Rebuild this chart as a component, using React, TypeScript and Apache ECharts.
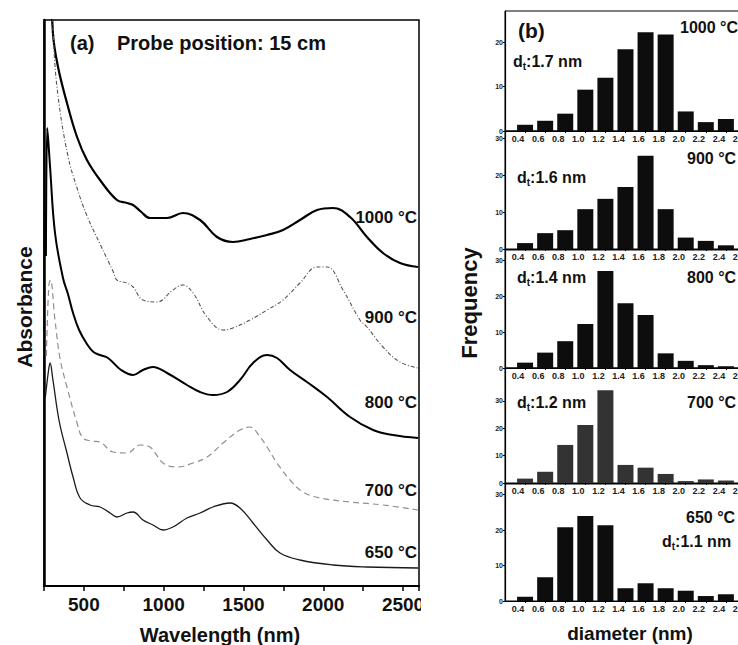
import React, { useEffect, useRef } from "react";
import * as echarts from "echarts";

const FONT = '"Liberation Sans", Arial, Helvetica, sans-serif';

// ---------- Panel (a): absorption spectra [wavelength nm, absorbance a.u. (offset)] ----------
const wlTicks = [500, 1000, 1500, 2000, 2500];

const spec1000: [number, number][] = [
  [290, 6.4], [306, 5.53], [338, 5.19], [394, 4.83], [457, 4.49], [519, 4.26], [601, 4.06],
  [707, 3.86], [770, 3.83], [808, 3.81], [860, 3.74], [914, 3.68], [1021, 3.68], [1121, 3.73],
  [1228, 3.66], [1334, 3.49], [1434, 3.44], [1541, 3.47], [1648, 3.51], [1748, 3.56],
  [1854, 3.66], [1961, 3.76], [2061, 3.78], [2168, 3.69], [2274, 3.49], [2374, 3.33],
  [2481, 3.23], [2594, 3.19],
];
const spec900: [number, number][] = [
  [293, 6.4], [310, 5.45], [338, 4.9], [400, 4.3], [457, 3.98], [520, 3.7], [601, 3.42],
  [682, 3.15], [707, 3.06], [770, 3.03], [808, 2.99], [870, 2.86], [958, 2.84], [1058, 2.96],
  [1121, 3.01], [1184, 2.93], [1272, 2.69], [1372, 2.56], [1434, 2.58], [1541, 2.66],
  [1648, 2.76], [1748, 2.86], [1854, 3.03], [1961, 3.19], [2024, 3.19], [2124, 2.96],
  [2230, 2.66], [2274, 2.59], [2374, 2.39], [2481, 2.24], [2594, 2.18],
];
const spec800: [number, number][] = [
  [262, 3.3], [270, 4.58], [277, 4.45], [288, 4.19], [319, 3.53], [369, 3.08], [400, 2.92],
  [432, 2.73], [470, 2.56], [519, 2.42], [560, 2.34], [601, 2.31], [651, 2.28], [733, 2.16],
  [808, 2.11], [870, 2.16], [933, 2.19], [1021, 2.13], [1146, 2.01], [1228, 1.94], [1309, 1.91],
  [1397, 1.94], [1478, 2.06], [1560, 2.23], [1648, 2.31], [1710, 2.28], [1792, 2.16],
  [1898, 2.04], [2024, 1.89], [2168, 1.69], [2312, 1.56], [2437, 1.51], [2594, 1.48],
];
const spec700: [number, number][] = [
  [265, 2.3], [280, 3.0], [290, 3.06], [319, 2.66], [350, 2.28], [394, 1.99], [457, 1.63],
  [494, 1.48], [550, 1.45], [601, 1.44], [682, 1.34], [770, 1.33], [852, 1.41], [914, 1.39],
  [996, 1.23], [1084, 1.19], [1184, 1.23], [1272, 1.29], [1372, 1.43], [1478, 1.56],
  [1541, 1.59], [1604, 1.49], [1648, 1.39], [1710, 1.23], [1792, 1.06], [1873, 0.94],
  [1980, 0.88], [2168, 0.84], [2374, 0.81], [2594, 0.76],
];
const spec650: [number, number][] = [
  [258, 1.88], [278, 2.15], [288, 2.23], [306, 2.06], [345, 1.65], [394, 1.33], [432, 1.09],
  [476, 0.88], [538, 0.81], [601, 0.79], [664, 0.73], [707, 0.69], [770, 0.73], [808, 0.74],
  [870, 0.66], [933, 0.61], [996, 0.56], [1058, 0.59], [1146, 0.68], [1228, 0.73],
  [1309, 0.79], [1416, 0.83], [1478, 0.78], [1560, 0.63], [1648, 0.46], [1729, 0.33],
  [1854, 0.26], [2061, 0.21], [2274, 0.19], [2594, 0.18],
];

// ---------- Panel (b): diameter histograms ----------
const diameters = [0.4, 0.6, 0.8, 1.0, 1.2, 1.4, 1.6, 1.8, 2.0, 2.2, 2.4];
const diamTicks = [0.4, 0.6, 0.8, 1.0, 1.2, 1.4, 1.6, 1.8, 2.0, 2.2, 2.4, 2.6];
const freq1000 = [1.4, 2.3, 3.9, 9.3, 12.0, 18.4, 22.2, 21.7, 4.4, 2.0, 2.7];
const freq900 = [1.6, 4.3, 5.1, 10.8, 13.6, 16.8, 25.3, 10.8, 3.1, 2.2, 1.0];
const freq800 = [1.5, 4.3, 7.5, 12.3, 27.1, 18.1, 14.8, 4.1, 2.0, 0.8, 0.5];
const freq700 = [1.6, 4.1, 13.9, 21.2, 33.9, 6.6, 5.6, 3.3, 0.7, 1.3, 0.9];
const freq650 = [1.2, 6.7, 20.8, 24.0, 21.4, 3.6, 5.0, 3.6, 2.9, 1.4, 1.9];
const freqTicks3 = [0, 10, 20];
const freqTicks4 = [0, 10, 20, 30];

const histPanels = [
  { freq: freq1000, top: 11, height: 120, max: 27, ticks: freqTicks3, color: "#0d0d0d" },
  { freq: freq900, top: 131, height: 118, max: 32, ticks: freqTicks4, color: "#0d0d0d" },
  { freq: freq800, top: 250, height: 118, max: 33, ticks: freqTicks4, color: "#0d0d0d" },
  { freq: freq700, top: 368, height: 115, max: 42, ticks: freqTicks4, color: "#333333" },
  { freq: freq650, top: 484, height: 117, max: 33, ticks: freqTicks4, color: "#0d0d0d" },
];

function txt(text: string, x: number, y: number, size: number, align = "left", extra: any = {}) {
  return {
    type: "text",
    x,
    y,
    z: 50,
    ...extra,
    style: {
      text,
      fill: "#111",
      fontSize: size,
      fontWeight: "bold",
      fontFamily: FONT,
      align,
      verticalAlign: "middle",
    },
  };
}

function dtText(value: string, x: number, y: number) {
  return {
    type: "text",
    x,
    y,
    z: 50,
    style: {
      text: `{n|d}{s|t}{n|:${value} nm}`,
      align: "left",
      verticalAlign: "middle",
      rich: {
        n: { fontSize: 16, fontWeight: "bold", fontFamily: FONT, fill: "#111", lineHeight: 20, verticalAlign: "middle" },
        s: { fontSize: 10, fontWeight: "bold", fontFamily: FONT, fill: "#111", lineHeight: 20, verticalAlign: "bottom" },
      },
    },
  };
}

export default function App() {
  const ref = useRef<HTMLDivElement>(null);

  useEffect(() => {
    if (!ref.current) return;
    const chart = echarts.init(ref.current, undefined, { renderer: "svg" });

    const grids: any[] = [
      { left: 44, top: 20, width: 375, height: 566, show: true, borderColor: "#000", borderWidth: 1.5, backgroundColor: "transparent" },
    ];
    const xAxes: any[] = [
      {
        type: "value",
        gridIndex: 0,
        min: 250,
        max: 2600,
        interval: 250,
        axisLine: { show: true, lineStyle: { color: "#000", width: 2 } },
        axisTick: { show: true, length: 5, lineStyle: { color: "#000", width: 1.5 } },
        axisLabel: {
          margin: 9,
          fontSize: 19,
          fontWeight: "bold",
          fontFamily: FONT,
          color: "#111",
          formatter: (v: number) => (wlTicks.includes(v) ? String(v) : ""),
        },
        splitLine: { show: false },
      },
    ];
    const yAxes: any[] = [
      {
        type: "value",
        gridIndex: 0,
        min: 0,
        max: 5.66,
        axisLine: { show: true, lineStyle: { color: "#000", width: 2.5 } },
        axisTick: { show: false },
        axisLabel: { show: false },
        splitLine: { show: false },
      },
    ];
    const lineBase = { type: "line", xAxisIndex: 0, yAxisIndex: 0, showSymbol: false, smooth: 0.4, clip: true };
    const series: any[] = [
      { ...lineBase, name: "1000 °C", data: spec1000, lineStyle: { color: "#000", width: 2.2 } },
      { ...lineBase, name: "900 °C", data: spec900, lineStyle: { color: "#555", width: 1.1, type: [4, 2, 1, 2] } },
      { ...lineBase, name: "800 °C", data: spec800, lineStyle: { color: "#000", width: 2 } },
      { ...lineBase, name: "700 °C", data: spec700, lineStyle: { color: "#8f8f8f", width: 1.2, type: [6, 4] } },
      { ...lineBase, name: "650 °C", data: spec650, lineStyle: { color: "#1a1a1a", width: 1.3 } },
    ];

    histPanels.forEach((p, i) => {
      const gi = i + 1;
      grids.push({ left: 505, top: p.top, width: 251, height: p.height, show: true, borderColor: "#000", borderWidth: 1, backgroundColor: "transparent" });
      xAxes.push({
        type: "value",
        gridIndex: gi,
        min: 0.2,
        max: 2.7,
        axisLine: { show: true, lineStyle: { color: "#000", width: 1.2 } },
        axisTick: { show: true, length: 2, customValues: diamTicks, lineStyle: { color: "#000" } },
        axisLabel: {
          customValues: diamTicks,
          margin: 3,
          fontSize: 9,
          fontWeight: "bold",
          fontFamily: FONT,
          color: "#222",
          padding: [0, 14, 0, 0],
          formatter: (v: number) => (v > 0.3 && v < 2.65 ? v.toFixed(1) : ""),
        },
        splitLine: { show: false },
      });
      yAxes.push({
        type: "value",
        gridIndex: gi,
        min: 0,
        max: p.max,
        axisLine: { show: true, lineStyle: { color: "#000", width: 1.2 } },
        axisTick: { show: true, length: 2, customValues: p.ticks, lineStyle: { color: "#000" } },
        axisLabel: {
          customValues: p.ticks,
          margin: 2,
          fontSize: 7,
          fontWeight: "bold",
          fontFamily: FONT,
          color: "#222",
          formatter: (v: number) => (p.ticks.includes(v) ? String(v) : ""),
        },
        splitLine: { show: false },
      });
      series.push({
        type: "bar",
        xAxisIndex: gi,
        yAxisIndex: gi,
        barWidth: 16,
        data: diameters.map((d, j) => [d, p.freq[j]]),
        itemStyle: { color: p.color },
      });
    });

    const graphics: any[] = [
      // panel (a) texts
      txt("(a)", 70, 43, 20),
      txt("Probe position: 15 cm", 117, 43, 20),
      txt("1000 °C", 417, 217, 17, "right"),
      txt("900 °C", 417, 317, 17, "right"),
      txt("800 °C", 417, 402, 17, "right"),
      txt("700 °C", 417, 490, 17, "right"),
      txt("650 °C", 417, 552, 17, "right"),
      txt("Wavelength (nm)", 220, 635, 20, "center"),
      txt("Absorbance", 24, 307, 21, "center", { rotation: Math.PI / 2 }),
      // panel (b) texts
      txt("(b)", 518, 30, 21),
      txt("1000 °C", 680, 27, 16),
      dtText("1.7", 513, 61),
      txt("900 °C", 687, 158, 16),
      dtText("1.6", 517, 177),
      dtText("1.4", 517, 277),
      txt("800 °C", 687, 277, 16),
      dtText("1.2", 517, 402),
      txt("700 °C", 687, 402, 16),
      txt("650 °C", 686, 517, 16),
      dtText("1.1", 662, 541),
      txt("diameter (nm)", 630, 633, 19, "center"),
      txt("Frequency", 469, 303, 22, "center", { rotation: Math.PI / 2 }),
      // the scan crops panel (a) just right of its frame
      { type: "rect", z: 100, shape: { x: 421, y: 594, width: 30, height: 30 }, style: { fill: "#fff" } },
    ];

    chart.setOption({
      animation: false,
      backgroundColor: "#fff",
      grid: grids,
      xAxis: xAxes,
      yAxis: yAxes,
      series,
      graphic: graphics,
    });

    return () => chart.dispose();
  }, []);

  return (
    <div style={{ position: "fixed", left: 0, top: 0, width: 738, height: 645, overflow: "hidden", background: "#fff" }}>
      <div ref={ref} style={{ width: 760, height: 645 }} />
    </div>
  );
}
